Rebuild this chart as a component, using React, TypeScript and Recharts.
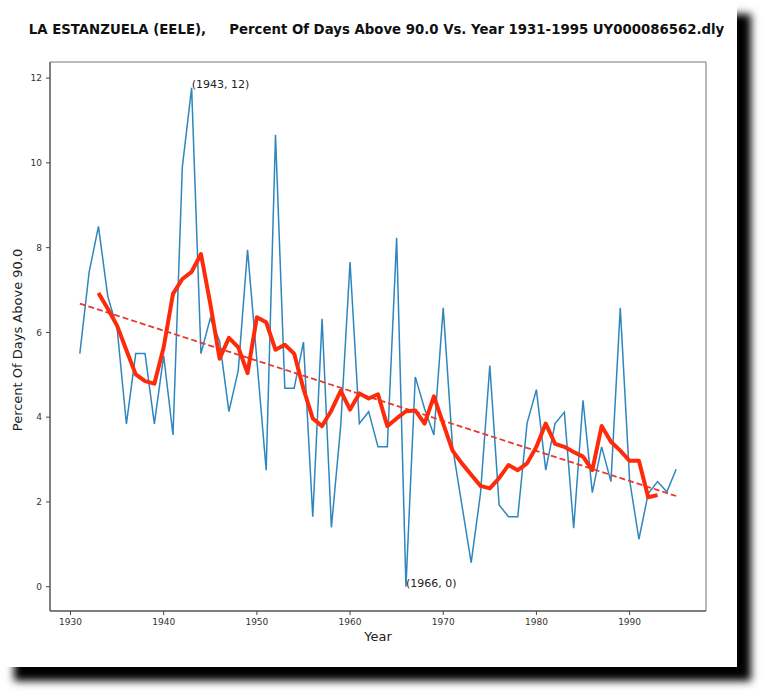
import React from 'react';
import { LineChart, Line, XAxis, YAxis, ReferenceArea } from 'recharts';

const years = [
  1931, 1932, 1933, 1934, 1935, 1936, 1937, 1938, 1939, 1940,
  1941, 1942, 1943, 1944, 1945, 1946, 1947, 1948, 1949, 1950,
  1951, 1952, 1953, 1954, 1955, 1956, 1957, 1958, 1959, 1960,
  1961, 1962, 1963, 1964, 1965, 1966, 1967, 1968, 1969, 1970,
  1971, 1972, 1973, 1974, 1975, 1976, 1977, 1978, 1979, 1980,
  1981, 1982, 1983, 1984, 1985, 1986, 1987, 1988, 1989, 1990,
  1991, 1992, 1993, 1994, 1995,
];

const percentAbove = [
  5.5, 7.42, 8.5, 6.85, 6.1, 3.84, 5.5, 5.5, 3.84, 5.45,
  3.58, 9.9, 11.77, 5.5, 6.33, 5.8, 4.13, 5.1, 7.95, 5.35,
  2.75, 10.66, 4.68, 4.68, 5.77, 1.65, 6.32, 1.4, 3.8, 7.66,
  3.85, 4.13, 3.3, 3.3, 8.23, 0, 4.95, 4.2, 3.58, 6.58,
  3.3, 1.93, 0.57, 2.2, 5.22, 1.93, 1.65, 1.65, 3.86, 4.65,
  2.75, 3.85, 4.12, 1.38, 4.4, 2.22, 3.3, 2.48, 6.58, 2.52,
  1.12, 2.2, 2.48, 2.24, 2.77,
];

// 5-year running mean as drawn (null where not plotted)
const runningMean = [
  null, null, 6.93, 6.56, 6.16, 5.58, 5.01, 4.85, 4.79, 5.65,
  6.91, 7.26, 7.43, 7.85, 6.68, 5.38, 5.87, 5.65, 5.04, 6.36,
  6.24, 5.59, 5.71, 5.5, 4.67, 3.97, 3.79, 4.16, 4.62, 4.18,
  4.56, 4.44, 4.54, 3.79, 3.97, 4.14, 4.16, 3.85, 4.49, 3.85,
  3.21, 2.91, 2.64, 2.38, 2.32, 2.56, 2.87, 2.75, 2.91, 3.3,
  3.85, 3.37, 3.3, 3.18, 3.07, 2.75, 3.79, 3.42, 3.21, 2.97,
  2.97, 2.11, 2.16, null, null,
];

const trendYears = [1931, 1995];
const trendValues = [6.68, 2.14];

const xTicks = [1930, 1940, 1950, 1960, 1970, 1980, 1990];
const yTicks = [0, 2, 4, 6, 8, 10, 12];

const annotationYears = [1943, 1966];
const annotationTexts = ['(1943, 12)', '(1966, 0)'];

const tableData = years.map((year, i) => ({
  year,
  pct: percentAbove[i],
  mean: runningMean[i],
}));

const trendData = trendYears.map((year, i) => ({ year, trend: trendValues[i] }));

const FONT = '"DejaVu Sans", Verdana, sans-serif';

const renderAnnotation = (props: any) => {
  const { x, y, index } = props;
  const yr = years[index];
  const k = annotationYears.indexOf(yr);
  if (k < 0) return <g key={`a-${index}`} />;
  return (
    <text
      key={`a-${index}`}
      x={x}
      y={y}
      fontSize={11}
      fill="#222"
      fontFamily={FONT}
      textAnchor="start"
    >
      {annotationTexts[k]}
    </text>
  );
};

export default function App() {
  return (
    <div
      style={{
        position: 'absolute',
        left: 0,
        top: 0,
        width: 768,
        height: 698,
        background: '#fff',
        overflow: 'hidden',
        fontFamily: FONT,
      }}
    >
      <div
        style={{
          position: 'absolute',
          left: 0,
          top: 0,
          width: 737,
          height: 667,
          background: '#fff',
          boxShadow: '14px 14px 8px #000',
        }}
      >
        <LineChart
          width={737}
          height={667}
          data={tableData}
          margin={{ top: 62, right: 31, bottom: 26, left: 0 }}
        >
          <XAxis
            dataKey="year"
            type="number"
            domain={[1927.8, 1998.2]}
            ticks={xTicks}
            allowDataOverflow
            height={30}
            tickSize={4}
            tickMargin={4}
            stroke="#444"
            tick={{ fontSize: 9, fill: '#333', fontFamily: FONT }}
          />
          <YAxis
            type="number"
            domain={[-0.573, 12.38]}
            ticks={yTicks}
            allowDataOverflow
            width={50}
            tickSize={4}
            tickMargin={4}
            stroke="#444"
            tick={{ fontSize: 9, fill: '#333', fontFamily: FONT }}
          />
          <ReferenceArea
            x1={1927.8}
            x2={1998.2}
            y1={-0.573}
            y2={12.38}
            fill="none"
            stroke="#777"
            strokeWidth={1}
            fillOpacity={0}
          />
          <Line
            dataKey="pct"
            stroke="#2f86bf"
            strokeWidth={1.5}
            dot={false}
            activeDot={false}
            isAnimationActive={false}
            label={renderAnnotation}
          />
          <Line
            data={trendData}
            dataKey="trend"
            stroke="#e8392a"
            strokeWidth={1.8}
            strokeDasharray="6 3"
            dot={false}
            activeDot={false}
            isAnimationActive={false}
          />
          <Line
            dataKey="mean"
            stroke="#ff2a0a"
            strokeWidth={4}
            strokeLinejoin="round"
            dot={false}
            activeDot={false}
            connectNulls={false}
            isAnimationActive={false}
          />
        </LineChart>

        <div
          style={{
            position: 'absolute',
            left: 0,
            top: 22,
            width: 753,
            textAlign: 'center',
            whiteSpace: 'pre',
            fontSize: 13.3,
            lineHeight: '15px',
            fontWeight: 'bold',
            color: '#111',
          }}
        >
          {'LA ESTANZUELA (EELE),     Percent Of Days Above 90.0 Vs. Year 1931-1995 UY000086562.dly'}
        </div>

        <div
          style={{
            position: 'absolute',
            left: 18 - 150,
            top: 340 - 8,
            width: 300,
            textAlign: 'center',
            fontSize: 13,
            lineHeight: '16px',
            color: '#222',
            transform: 'rotate(-90deg)',
            whiteSpace: 'pre',
          }}
        >
          Percent Of Days Above 90.0
        </div>

        <div
          style={{
            position: 'absolute',
            left: 378 - 50,
            top: 637 - 8,
            width: 100,
            textAlign: 'center',
            fontSize: 13,
            lineHeight: '16px',
            color: '#222',
          }}
        >
          Year
        </div>
      </div>
    </div>
  );
}
